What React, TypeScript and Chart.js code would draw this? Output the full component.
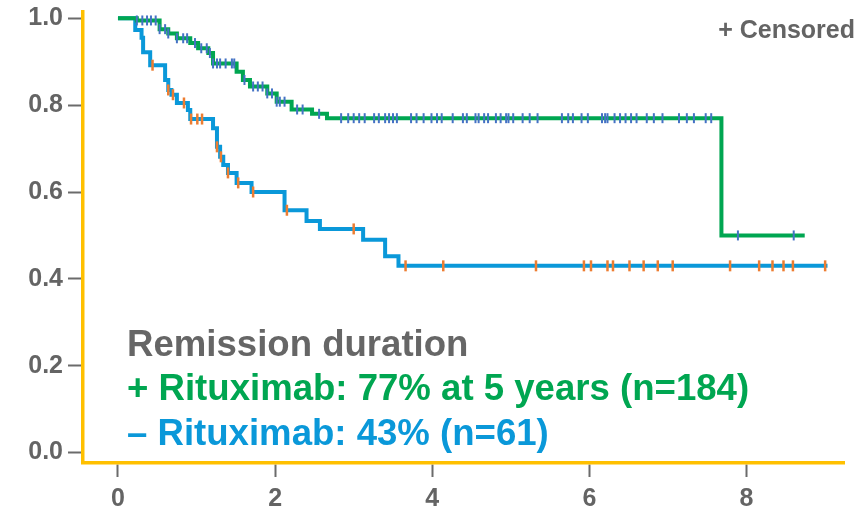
import React, { useEffect, useRef } from "react";
import { Chart, registerables } from "chart.js";

Chart.register(...registerables);

const FONT = "'Liberation Sans', Arial, Helvetica, sans-serif";

// Axis ticks
const xTicks = [0, 2, 4, 6, 8];
const yTicks = [0, 0.2, 0.4, 0.6, 0.8, 1.0];

// + Rituximab arm: event times (years) and remission probability from that time on
const plusTimes = [0, 0.24, 0.53, 0.64, 0.75, 0.92, 1.02, 1.15, 1.21, 1.51, 1.59, 1.68, 1.9, 2.02, 2.21, 2.47, 2.66, 7.68];
const plusSurv = [1.0, 0.995, 0.975, 0.965, 0.954, 0.943, 0.931, 0.92, 0.896, 0.877, 0.858, 0.843, 0.827, 0.808, 0.79, 0.78, 0.77, 0.5];
const plusEnd = 8.74;
// + Rituximab arm: censored observations (years)
const plusCensored = [
  0.24, 0.31, 0.37, 0.42, 0.48, 0.53, 0.6, 0.64, 0.75, 0.83, 0.88, 0.98, 1.06, 1.13, 1.17, 1.21, 1.26, 1.3,
  1.37, 1.45, 1.48, 1.61, 1.72, 1.78, 1.84, 1.9, 1.96, 2.02, 2.06, 2.12, 2.28, 2.35, 2.56, 2.84, 2.93, 3.0,
  3.07, 3.14, 3.26, 3.32, 3.4, 3.45, 3.5, 3.55, 3.73, 3.8, 3.89, 3.99, 4.06, 4.12, 4.26, 4.39, 4.44, 4.55,
  4.59, 4.66, 4.71, 4.81, 4.87, 4.94, 4.97, 5.03, 5.15, 5.24, 5.34, 5.65, 5.73, 5.79, 5.9, 5.98, 6.16, 6.2,
  6.23, 6.32, 6.39, 6.46, 6.53, 6.6, 6.73, 6.82, 6.93, 7.14, 7.24, 7.33, 7.48, 7.55, 7.89, 8.6,
];

// – Rituximab arm
const minusTimes = [0, 0.22, 0.3, 0.32, 0.41, 0.6, 0.64, 0.68, 0.75, 0.89, 0.92, 1.21, 1.26, 1.3, 1.34, 1.4, 1.51, 1.7, 2.12, 2.4, 2.57, 3.12, 3.4, 3.57];
const minusSurv = [1.0, 0.973, 0.955, 0.922, 0.892, 0.858, 0.835, 0.824, 0.805, 0.789, 0.768, 0.747, 0.704, 0.681, 0.662, 0.644, 0.621, 0.6, 0.558, 0.533, 0.515, 0.49, 0.452, 0.43];
const minusEnd = 9.03;
const minusCensored = [
  0.44, 0.64, 0.7, 0.84, 0.93, 1.01, 1.07, 1.26, 1.31, 1.4, 1.53, 1.72, 2.15, 3.0, 3.66, 4.14, 5.32, 5.93,
  6.02, 6.23, 6.3, 6.51, 6.69, 6.87, 7.06, 7.79, 8.16, 8.33, 8.47, 8.59, 9.0,
];

function stepPoints(times: number[], surv: number[], end: number) {
  const pts = times.map((t, i) => ({ x: t, y: surv[i] }));
  pts.push({ x: end, y: surv[surv.length - 1] });
  return pts;
}

function levelAt(times: number[], surv: number[], t: number) {
  let v = surv[0];
  for (let i = 0; i < times.length; i++) if (times[i] <= t) v = surv[i];
  return v;
}

function censorPoints(times: number[], surv: number[], cens: number[]) {
  return cens.map((t) => ({ x: t, y: levelAt(times, surv, t) }));
}

export default function App() {
  const ref = useRef<HTMLCanvasElement | null>(null);

  useEffect(() => {
    if (!ref.current) return;
    const tickFont = { family: FONT, size: 25, weight: "bold" as const };
    const chart = new Chart(ref.current, {
      type: "line",
      data: {
        datasets: [
          {
            label: "+ Rituximab censored",
            data: censorPoints(plusTimes, plusSurv, plusCensored),
            showLine: false,
            pointStyle: "line",
            pointRotation: 90,
            pointRadius: 5,
            pointBorderWidth: 2,
            pointBorderColor: "#4472C4",
            pointBackgroundColor: "#4472C4",
            order: 0,
          },
          {
            label: "– Rituximab censored",
            data: censorPoints(minusTimes, minusSurv, minusCensored),
            showLine: false,
            pointStyle: "line",
            pointRotation: 90,
            pointRadius: 5.5,
            pointBorderWidth: 2.5,
            pointBorderColor: "#ED7D31",
            pointBackgroundColor: "#ED7D31",
            order: 0,
          },
          {
            label: "+ Rituximab",
            data: stepPoints(plusTimes, plusSurv, plusEnd),
            stepped: "before",
            borderColor: "#00A651",
            borderWidth: 4,
            pointRadius: 0,
            fill: false,
            order: 2,
          },
          {
            label: "– Rituximab",
            data: stepPoints(minusTimes, minusSurv, minusEnd),
            stepped: "before",
            borderColor: "#0A98D9",
            borderWidth: 4,
            pointRadius: 0,
            fill: false,
            order: 2,
          },
        ],
      },
      options: {
        responsive: false,
        animation: false,
        events: [],
        layout: { padding: { top: 12, right: 17, left: 0, bottom: 0 } },
        plugins: { legend: { display: false }, tooltip: { enabled: false } },
        scales: {
          x: {
            type: "linear",
            min: -0.445,
            max: 9.24,
            afterBuildTicks: (s: any) => {
              s.ticks = xTicks.map((v) => ({ value: v }));
            },
            afterFit: (s: any) => {
              s.height = 48;
              s.paddingLeft = 0;
              s.paddingRight = 0;
            },
            grid: { drawOnChartArea: false, drawTicks: true, tickLength: 14, tickColor: "#6b6b6b", tickWidth: 2 },
            border: { display: true, color: "#FFC000", width: 3.5 },
            ticks: {
              font: tickFont,
              color: "#646464",
              padding: 7,
              maxRotation: 0,
              autoSkip: false,
              callback: (v: any) => String(v),
            },
          },
          y: {
            type: "linear",
            min: -0.024,
            max: 1.0145,
            afterBuildTicks: (s: any) => {
              s.ticks = yTicks.map((v) => ({ value: v }));
            },
            afterFit: (s: any) => {
              s.width = 83;
              s.paddingTop = 0;
              s.paddingBottom = 0;
            },
            grid: { drawOnChartArea: false, drawTicks: true, tickLength: 15, tickColor: "#6b6b6b", tickWidth: 2 },
            border: { display: true, color: "#FFC000", width: 3.5 },
            ticks: {
              font: tickFont,
              color: "#646464",
              padding: 5,
              autoSkip: false,
              callback: (v: any) => Number(v).toFixed(1),
            },
          },
        },
      },
    });
    return () => chart.destroy();
  }, []);

  const big: React.CSSProperties = {
    position: "absolute",
    left: 127,
    fontFamily: FONT,
    fontWeight: "bold",
    fontSize: 36.6,
    lineHeight: "37px",
    whiteSpace: "nowrap",
  };

  return (
    <div style={{ position: "absolute", left: 0, top: 0, width: 861, height: 511, background: "#ffffff" }}>
      <canvas ref={ref} width={861} height={511} style={{ display: "block", width: 861, height: 511 }} />
      <div
        style={{
          position: "absolute",
          right: 6,
          top: 17,
          fontFamily: FONT,
          fontWeight: "bold",
          fontSize: 25,
          lineHeight: "25px",
          color: "#646464",
          whiteSpace: "nowrap",
        }}
      >
        + Censored
      </div>
      <div style={{ ...big, top: 325, color: "#666666" }}>Remission duration</div>
      <div style={{ ...big, top: 369, color: "#00A651" }}>+ Rituximab: 77% at 5 years (n=184)</div>
      <div style={{ ...big, top: 414, color: "#0A98D9" }}>– Rituximab: 43% (n=61)</div>
    </div>
  );
}
